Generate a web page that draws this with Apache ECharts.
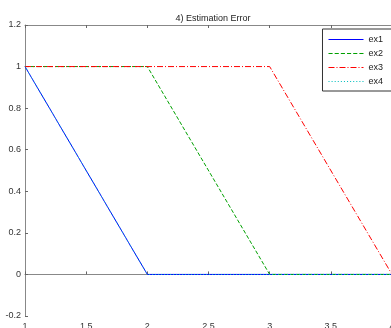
<!DOCTYPE html>
<html><head><meta charset="utf-8">
<script src="https://cdn.jsdelivr.net/npm/echarts@6/dist/echarts.min.js"></script>
<style>html,body{margin:0;padding:0;background:#fff}#c{width:391px;height:328px}</style>
</head><body><div id="c"></div>
<script>
const titleText = "4) Estimation Error";
const seriesNames = ["ex1", "ex2", "ex3", "ex4"];
const ex1 = [[1, 1], [2, 0], [4, 0]];
const ex2 = [[1, 1], [2, 1], [3, 0], [4, 0]];
const ex3 = [[1, 1], [3, 1], [4, 0]];
const ex4 = [[1, 1], [2, 0], [4, 0]];
const xTicks = [1, 1.5, 2, 2.5, 3, 3.5, 4];
const yTicks = [-0.2, 0, 0.2, 0.4, 0.6, 0.8, 1, 1.2];

const colors = ["#0000ff", "#00a000", "#ff0000", "#00bfbf"];
const types = ["solid", [4, 2], [6, 2, 1, 2], [1, 2]];
const datas = [ex1, ex2, ex3, ex4];

// legend icon: dashed bar drawn as a path of small rectangles (35 x 1 units)
function dashIcon(pattern) {
  const W = 35;
  if (pattern === 'solid') return 'path://M0,0h' + W + 'v1h-' + W + 'z';
  let x = 0, k = 0, d = '';
  while (x < W) {
    const len = pattern[k % pattern.length];
    if (k % 2 === 0) {
      const w = Math.min(len, W - x);
      d += 'M' + x + ',0h' + w + 'v1h-' + w + 'z';
    }
    x += len; k++;
  }
  return 'path://' + d;
}

const chart = echarts.init(document.getElementById('c'), null, {renderer: 'canvas'});
const axisCommon = {
  axisLine: {show: true, lineStyle: {color: '#888', width: 1}},
  axisTick: {show: true, inside: true, length: 3, lineStyle: {color: '#666'}},
  splitLine: {show: false},
  axisLabel: {color: '#333', fontSize: 9, fontFamily: 'Liberation Sans, Arial'}
};
chart.setOption({
  animation: false,
  title: {text: titleText, left: 208, textAlign: 'center', top: 9,
    textStyle: {fontSize: 9, fontWeight: 'normal', color: '#222', fontFamily: 'Liberation Sans, Arial'}},
  grid: {left: 25, top: 25, right: -1, bottom: 12, containLabel: false, outerBoundsMode: 'none'},
  legend: {
    orient: 'vertical', right: -6, top: 29,
    data: seriesNames.map((n, i) => ({
      name: n, icon: dashIcon(types[i]),
      itemStyle: {color: colors[i], borderWidth: 0}
    })),
    itemWidth: 35, itemHeight: 1.5, itemGap: 5,
    padding: [6, 14, 5, 6],
    borderColor: '#333', borderWidth: 1, backgroundColor: '#fff',
    textStyle: {fontSize: 9, color: '#222', fontFamily: 'Liberation Sans, Arial'}
  },
  xAxis: [
    Object.assign({type: 'value', min: 1, max: 4, interval: 0.5, position: 'bottom'}, axisCommon,
      {axisLabel: Object.assign({}, axisCommon.axisLabel, {margin: 6, formatter: v => String(v)})}),
    Object.assign({type: 'value', min: 1, max: 4, interval: 0.5, position: 'top'}, axisCommon,
      {axisLabel: {show: false}})
  ],
  yAxis: [
    Object.assign({type: 'value', min: -0.2, max: 1.2, interval: 0.2}, axisCommon,
      {axisLabel: Object.assign({}, axisCommon.axisLabel, {margin: 4,
        formatter: v => String(Math.round(v * 10) / 10)})})
  ],
  series: seriesNames.map((n, i) => ({
    name: n, type: 'line', data: datas[i], showSymbol: false, symbol: 'none',
    xAxisIndex: 0,
    lineStyle: {color: colors[i], width: 1, type: types[i]},
    itemStyle: {color: colors[i]}
  }))
});
</script></body></html>
